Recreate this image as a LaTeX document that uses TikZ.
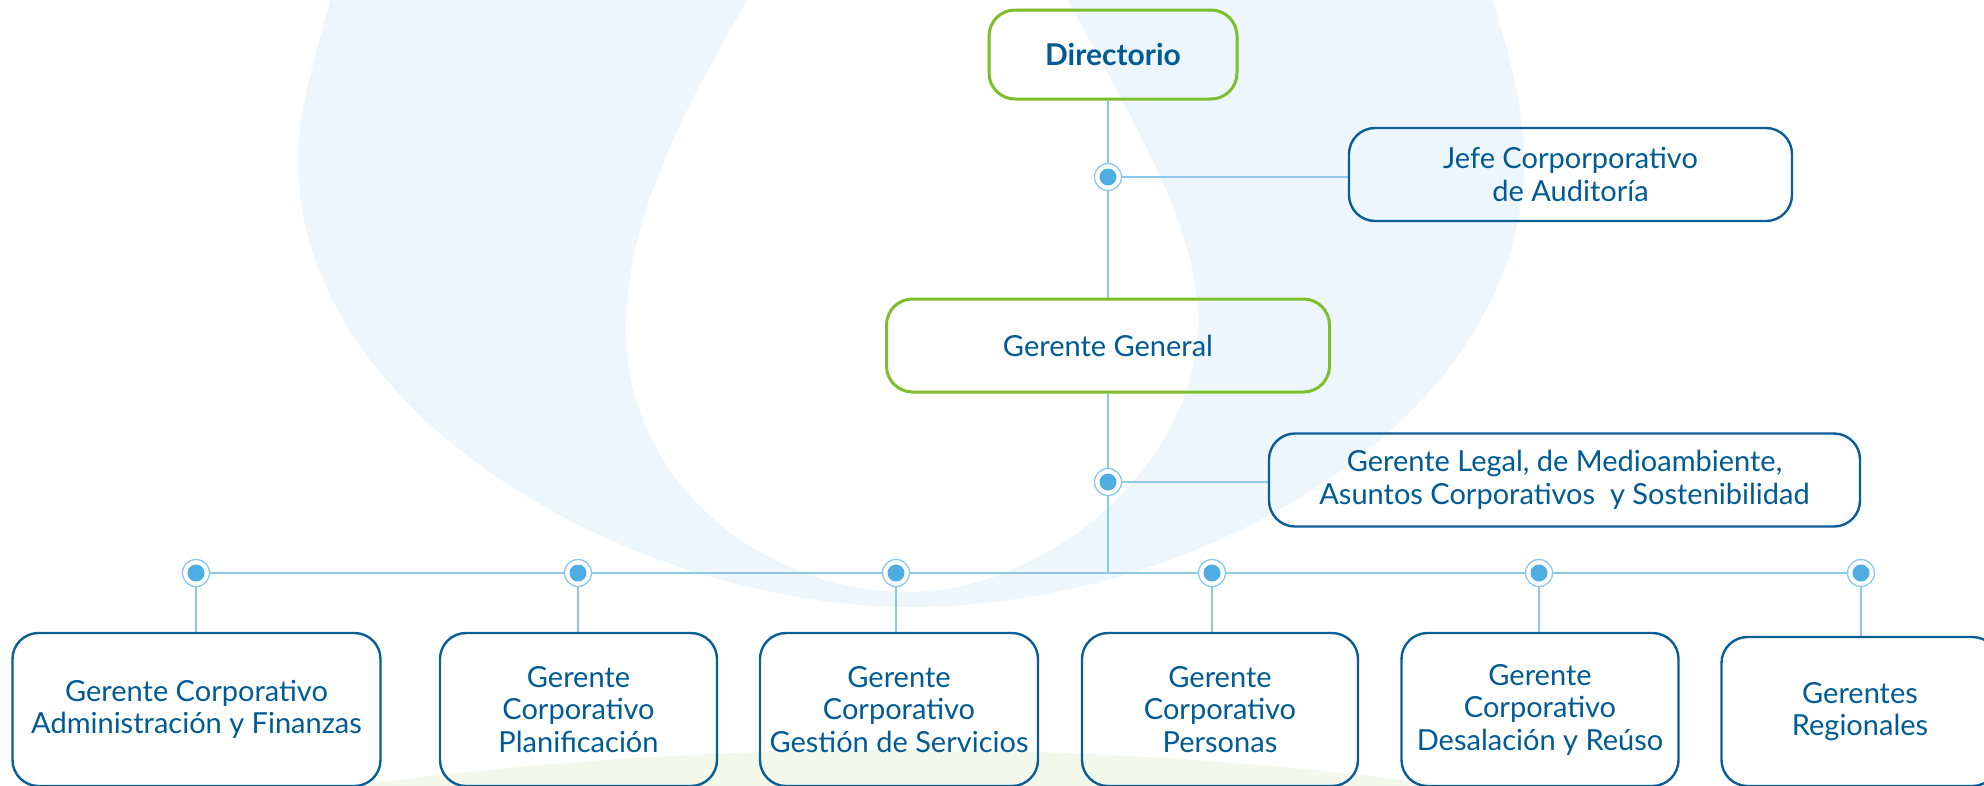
\documentclass[tikz,border=0pt]{standalone}
\usepackage{fontspec}
\setmainfont{Lato}
\definecolor{txt}{RGB}{0,90,148}
\definecolor{bbox}{RGB}{10,94,150}
\definecolor{gbox}{RGB}{125,190,42}
\definecolor{linec}{RGB}{140,200,236}
\definecolor{dotc}{RGB}{78,174,228}
\definecolor{blobc}{RGB}{237,246,252}
\definecolor{greenbg}{RGB}{242,248,234}
\pgfdeclarelayer{back}
\pgfdeclarelayer{lines}
\pgfsetlayers{back,lines,main}
\tikzset{
  orgbox/.style={draw=bbox, line width=2.4pt, rounded corners=26pt, align=center,
    text=txt, font=\fontsize{29}{32.5}\selectfont, inner sep=0pt},
  topbox/.style={orgbox, draw=gbox, line width=3pt},
  junc/.style={circle, draw=linec, line width=1.3pt, fill=white, minimum size=27pt,
    inner sep=0pt, path picture={\fill[dotc] (path picture bounding box.center) circle[radius=8.5pt];}},
  conn/.style={draw=linec, line width=1.4pt},
  busline/.style={draw=linec, line width=2.2pt},
}
\begin{document}
\begin{tikzpicture}[x=1pt,y=-1pt]
\useasboundingbox (0,0) rectangle (1984,785);
\clip (0,0) rectangle (1984,785);
% top boxes
\node[topbox, minimum width=248pt, minimum height=89pt,
  font=\fontsize{30}{32.5}\selectfont\bfseries] (dir) at (1113,54.5) {Directorio};
\node[orgbox, minimum width=443pt, minimum height=93pt] (jefe) at (1570.5,174.5)
  {Jefe Corporporativo\\de Auditoría};
\node[topbox, minimum width=443pt, minimum height=93pt] (gg) at (1108,345.5) {Gerente General};
\node[orgbox, minimum width=591pt, minimum height=93pt] (legal) at (1564.5,480)
  {Gerente Legal, de Medioambiente,\\Asuntos Corporativos~ y Sostenibilidad};
% bottom boxes
\node[orgbox, minimum width=368pt, minimum height=153pt] (b1) at (196.5,709.5)
  {Gerente Corporativo\\Administración y Finanzas};
\node[orgbox, minimum width=277pt, minimum height=153pt] (b2) at (578.5,709.5)
  {Gerente\\Corporativo\\Planificación};
\node[orgbox, minimum width=278pt, minimum height=153pt] (b3) at (899,709.5)
  {Gerente\\Corporativo\\Gestión de Servicios};
\node[orgbox, minimum width=276pt, minimum height=153pt] (b4) at (1220,709.5)
  {Gerente\\Corporativo\\Personas};
\node[orgbox, minimum width=277pt, minimum height=153pt] (b5) at (1540,709.5)
  {Gerente\\Corporativo\\Desalación y Reúso};
\node[orgbox, minimum width=277pt, minimum height=149pt] (b6) at (1860,711.5)
  {Gerentes\\Regionales};
% junctions
\node[junc] (jA) at (1108,177) {};
\node[junc] (jB) at (1108,482) {};
\node[junc] (j1) at (196,573) {};
\node[junc] (j2) at (578,573) {};
\node[junc] (j3) at (896,573) {};
\node[junc] (j4) at (1212,573) {};
\node[junc] (j5) at (1539,573) {};
\node[junc] (j6) at (1861,573) {};
\coordinate (busmid) at (1108,573);
% connectors
\begin{pgfonlayer}{lines}
\draw[conn] (dir.south -| jA) -- (gg.north -| jA);
\draw[conn] (jA) -- (jA -| jefe.west);
\draw[conn] (gg.south -| jB) -- (busmid);
\draw[conn] (jB) -- (jB -| legal.west);
\draw[busline] (j1) -- (j6);
\foreach \i in {1,...,6}{\draw[conn] (j\i) -- (j\i |- b\i.north);}
\end{pgfonlayer}
% background shapes
\begin{pgfonlayer}{back}
\clip (0,0) rectangle (1984,785);
\fill[blobc] (340,-40) .. controls (322,40) and (298,100) .. (298,160)
  .. controls (298,420) and (640,607) .. (910,607)
  .. controls (1200,607) and (1524,420) .. (1524,160)
  .. controls (1524,100) and (1505,40) .. (1480,-40)
  .. controls (1400,-400) and (420,-400) .. (340,-40) -- cycle;
\fill[white] (800,-90) .. controls (700,80) and (626,200) .. (626,330)
  .. controls (626,480) and (760,592) .. (910,592)
  .. controls (1040,592) and (1198,470) .. (1198,320)
  .. controls (1198,200) and (1090,60) .. (1024,-90)
  .. controls (980,-200) and (840,-200) .. (800,-90) -- cycle;
\fill[greenbg] (900,1050) ellipse [x radius=1150pt, y radius=300pt];
\end{pgfonlayer}
\end{tikzpicture}
\end{document}
